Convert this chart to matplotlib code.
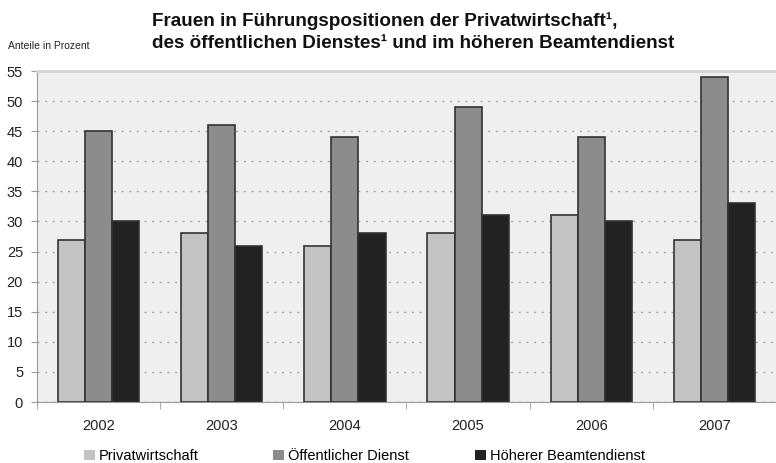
import matplotlib
matplotlib.use("Agg")
import matplotlib.pyplot as plt
import numpy as np
from matplotlib.patches import Patch

plt.rcParams['font.family'] = ['Liberation Sans', 'DejaVu Sans']

years = ["2002", "2003", "2004", "2005", "2006", "2007"]
privat = [27, 28, 26, 28, 31, 27]
oeffentlich = [45, 46, 44, 49, 44, 54]
beamte = [30, 26, 28, 31, 30, 33]
series_names = ["Privatwirtschaft", "Öffentlicher Dienst", "Höherer Beamtendienst"]
colors = ["#c3c3c3", "#8c8c8c", "#222222"]

fig = plt.figure(figsize=(7.76, 4.63), dpi=100)
ax = fig.add_axes([37/776, 1-402/463, 1-37/776, (402-71)/463])
ax.set_facecolor("#efefef")

x = np.arange(len(years))
w = 0.22
for i, (vals, c) in enumerate(zip([privat, oeffentlich, beamte], colors)):
    ax.bar(x + (i-1)*w, vals, width=w, color=c, edgecolor="#333333", linewidth=1.2, zorder=3)

ax.set_xlim(-0.5, 5.49)
ax.set_ylim(0, 55)
ax.set_yticks(range(0, 56, 5))
ax.yaxis.grid(True, linestyle=(0, (1.5, 4)), color="#aaaaaa", linewidth=1.0, zorder=0)
ax.set_axisbelow(True)

ax.set_xticks(x)
ax.set_xticklabels(years, fontsize=10.5, color="#222222")
ax.set_xticks(np.arange(-0.5, 5.6, 1), minor=True)
ax.tick_params(axis='x', which='major', length=0, pad=12)
ax.tick_params(axis='x', which='minor', length=5, color="#999999")
ax.tick_params(axis='y', length=4, color="#999999", labelsize=10.5, labelcolor="#222222", pad=6)

for s in ["left", "bottom"]:
    ax.spines[s].set_color("#999999")
ax.spines["top"].set_color("#d5d5d5")
ax.spines["top"].set_linewidth(2)
ax.spines["right"].set_visible(False)

fig.text(152/776, 1-21/463, "Frauen in Führungspositionen der Privatwirtschaft¹,",
         fontsize=13.6, fontweight='bold', ha='left', va='center', color="#111111")
fig.text(152/776, 1-43/463, "des öffentlichen Dienstes¹ und im höheren Beamtendienst",
         fontsize=13.6, fontweight='bold', ha='left', va='center', color="#111111")
fig.text(8/776, 1-46/463, "Anteile in Prozent", fontsize=7.5, ha='left', va='center', color="#222222")

square_x = [84, 273, 475]
for name, c, sx in zip(series_names, colors, square_x):
    fig.legend([Patch(facecolor=c, edgecolor="none")], [name], loc='center left',
               bbox_to_anchor=(sx/776, 1-456/463), frameon=False, fontsize=10.5,
               handlelength=0.75, handleheight=0.75, handletextpad=0.25,
               borderpad=0, borderaxespad=0)

fig.savefig("out.png", dpi=100)
